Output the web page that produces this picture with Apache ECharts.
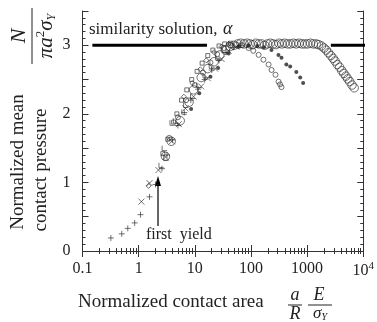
<!DOCTYPE html>
<html>
<head>
<meta charset="utf-8">
<script src="https://cdn.jsdelivr.net/npm/echarts@6/dist/echarts.min.js"></script>
<style>
  html, body { margin: 0; padding: 0; background: #fff; }
  #main { width: 377px; height: 322px; }
</style>
</head>
<body>
<div id="main"></div>
<script>
// tick labels
const xTickLabels = ['0.1', '1', '10', '100', '1000', '10^4']
const yTickLabels = ['0', '1', '2', '3']

// similarity solution line, alpha = 3
const similarityLeft = [[0.15, 3], [16.5, 3]]
const similarityRight = [[2650, 3], [20000, 3]]

// + markers
const plusPts = [[0.32, 0.19], [0.5, 0.25], [0.64, 0.33], [0.85, 0.41], [1.08, 0.53], [1.56, 0.79], [2.0, 0.97],
    [2.6, 1.2], [3.2, 1.4], [4.0, 1.62], [5.0, 1.83], [6.5, 2.02], [8.5, 2.2], [11.5, 2.36], [15, 2.5],
    [20, 2.64], [27, 2.78], [36, 2.9], [48, 2.97], [65, 3.0]]
// x markers
const crossPts = [[1.12, 0.72], [1.56, 0.99], [2.25, 1.18], [3.0, 1.37], [3.9, 1.6], [5.2, 1.85], [6.8, 2.08],
    [9.5, 2.25], [13, 2.4], [17, 2.52], [23, 2.66], [30, 2.8], [40, 2.92], [55, 2.98]]
// small open squares
const squarePts = [[2.7, 1.42], [3.3, 1.63], [4.2, 1.88], [4.8, 2.0], [5.8, 2.2], [7.2, 2.35], [8.8, 2.5],
    [11, 2.62], [13.5, 2.74], [17, 2.85], [21, 2.93], [27, 2.99], [34, 3.02], [43, 3.03]]
// small diamonds
const diamondPts = [[1.5, 0.95], [6.4, 2.25], [9, 2.45], [12.5, 2.65], [16, 2.78], [22, 2.9], [30, 2.98], [40, 3.02]]
// L shaped markers
const elbowPts = [[2.55, 1.25], [3.1, 1.36], [2.9, 1.5], [4.0, 1.87], [4.6, 1.9], [6.5, 2.03], [7.0, 2.13],
    [9.3, 2.26], [12, 2.42], [15.5, 2.56], [20, 2.7], [26, 2.82], [34, 2.93]]
// small open circles (drop at ~350)
const smallCirclePts = [[3.5, 1.65], [5, 1.95], [7, 2.2], [10, 2.42], [14, 2.6], [19, 2.75], [25, 2.87], [33, 2.96],
    [43, 3.0], [55, 3.01], [70, 3.0], [91, 2.96], [110, 2.92], [137, 2.86], [167, 2.79], [206, 2.72],
    [233, 2.64], [274, 2.57], [310, 2.47], [330, 2.43], [350, 2.39]]
// filled dots (drop at ~850)
const dotPts = [[8.6, 2.07], [12, 2.3], [19, 2.54], [26, 2.67], [40, 2.88], [60, 2.98], [90, 3.0], [130, 2.99],
    [170, 2.97], [232, 2.93], [309, 2.86], [350, 2.82], [427, 2.72], [500, 2.69], [643, 2.61], [754, 2.53], [850, 2.45]]
// large open circles (drop at ~7000)
const bigCirclePts = [[3.0, 1.38], [3.8, 1.6], [5.5, 1.9], [7.9, 2.17], [9.5, 2.35], [13, 2.53], [17, 2.66],
    [22, 2.76], [28, 2.86], [35, 2.93], [42, 2.98], [50, 3.0], [58, 3.02], [66, 3.03], [75, 3.02], [85, 3.03],
    [96, 3.02], [108, 3.01], [122, 3.03], [138, 3.02], [155, 3.02], [175, 3.0], [197, 3.02], [222, 3.03],
    [250, 3.02], [280, 3.01], [315, 3.03], [355, 3.02], [400, 3.03], [450, 3.02], [505, 3.02], [570, 3.03],
    [640, 3.02], [720, 3.03], [810, 3.02], [910, 3.02], [1020, 3.02], [1150, 3.03], [1290, 3.02], [1450, 3.02],
    [1600, 3.01], [1800, 2.99], [2000, 2.96], [2200, 2.93], [2400, 2.89], [2650, 2.85], [2900, 2.81],
    [3150, 2.77], [3450, 2.72], [3800, 2.68], [4150, 2.63], [4500, 2.59], [4900, 2.55], [5300, 2.51],
    [5750, 2.47], [6300, 2.42], [6900, 2.38]]

const serif = '"Liberation Serif", "DejaVu Serif", serif'
const ink = '#222'

function markerSeries(data, symbol, size, filled) {
    return {
        type: 'scatter',
        data: data,
        symbol: symbol,
        symbolSize: size,
        silent: true,
        itemStyle: {
            color: filled ? ink : 'transparent',
            borderColor: ink,
            borderWidth: filled ? 0 : 0.8
        }
    }
}

function lineSeries(data) {
    return {
        type: 'line',
        data: data,
        symbol: 'none',
        clip: false,
        silent: true,
        lineStyle: { color: '#000', width: 3 }
    }
}

const chart = echarts.init(document.querySelector('#main'))

const baseX = {
    type: 'log',
    logBase: 10,
    min: 0.1,
    max: 10000,
    axisLine: { lineStyle: { color: '#333', width: 1 } },
    axisTick: { inside: true, length: 6, lineStyle: { color: '#333' } },
    minorTick: { show: true, splitNumber: 9, length: 3, lineStyle: { color: '#333' } },
    splitLine: { show: false }
}
const baseY = {
    type: 'value',
    min: 0,
    max: 3.5,
    interval: 0.5,
    axisLine: { show: true, lineStyle: { color: '#333', width: 1 } },
    axisTick: { inside: true, length: 6, lineStyle: { color: '#333' } },
    minorTick: { show: true, splitNumber: 5, length: 3, lineStyle: { color: '#333' } },
    splitLine: { show: false }
}

const option = {
    backgroundColor: '#fff',
    animation: false,
    grid: { left: 82.5, right: 12, top: 11, bottom: 71 },
    xAxis: [
        Object.assign({}, baseX, {
            position: 'bottom',
            axisLabel: {
                margin: 10,
                fontFamily: serif,
                fontSize: 16,
                color: ink,
                formatter: v => {
                    const t = xTickLabels[Math.round(Math.log10(v)) + 1]
                    return t === '10^4' ? '{b|10}{s|4}' : '{b|' + t + '}'
                },
                rich: {
                    b: { fontFamily: serif, fontSize: 16, color: ink },
                    s: { fontFamily: serif, fontSize: 11, color: ink, verticalAlign: 'top', padding: [0, 0, 9, 0] }
                }
            }
        }),
        Object.assign({}, baseX, { position: 'top', axisLabel: { show: false } })
    ],
    yAxis: [
        Object.assign({}, baseY, {
            position: 'left',
            axisLabel: {
                margin: 12,
                fontFamily: serif,
                fontSize: 16,
                color: ink,
                formatter: v => (Math.abs(v - Math.round(v)) < 1e-6 ? yTickLabels[Math.round(v)] : '')
            }
        }),
        Object.assign({}, baseY, { position: 'right', axisLabel: { show: false } })
    ],
    series: [
        lineSeries(similarityLeft),
        lineSeries(similarityRight),
        markerSeries(plusPts, 'path://M5,0L5,10M0,5L10,5', 6, false),
        markerSeries(crossPts, 'path://M0,0L10,10M10,0L0,10', 6, false),
        markerSeries(squarePts, 'rect', 4, false),
        markerSeries(diamondPts, 'diamond', 5, false),
        markerSeries(elbowPts, 'path://M0,0L0,10L10,10', 5, false),
        markerSeries(smallCirclePts, 'circle', 5, false),
        markerSeries(dotPts, 'circle', 4, true),
        markerSeries(bigCirclePts, 'circle', 8.5, false)
    ],
    graphic: [
        // similarity solution label
        { type: 'text', left: 89, top: 21, style: { text: 'similarity solution,', font: '17px ' + serif, fill: ink } },
        { type: 'text', left: 223, top: 20, style: { text: 'α', font: 'italic 18px ' + serif, fill: ink } },
        // first yield arrow
        { type: 'line', shape: { x1: 158, y1: 226, x2: 158, y2: 184 }, style: { stroke: '#000', lineWidth: 1.2 } },
        { type: 'polygon', shape: { points: [[158, 176], [155, 186], [161, 186]] }, style: { fill: '#000' } },
        { type: 'text', left: 146, top: 227, style: { text: 'first  yield', font: '16px ' + serif, fill: ink } },
        // y axis title
        { type: 'text', x: 18, y: 162, rotation: Math.PI / 2,
          style: { text: 'Normalized mean', font: '19px ' + serif, fill: ink, align: 'center', verticalAlign: 'middle' } },
        { type: 'text', x: 41, y: 170, rotation: Math.PI / 2,
          style: { text: 'contact pressure', font: '19px ' + serif, fill: ink, align: 'center', verticalAlign: 'middle' } },
        // N / (pi a^2 sigma_Y)
        { type: 'group', x: 32, y: 36, rotation: Math.PI / 2, children: [
            { type: 'text', x: 0, y: -13, style: { text: 'N', font: 'italic 22px ' + serif, fill: ink, align: 'center', verticalAlign: 'middle' } },
            { type: 'line', shape: { x1: -28, y1: 0, x2: 28, y2: 0 }, style: { stroke: ink, lineWidth: 1 } },
            { type: 'text', x: 0, y: 14, style: {
                text: '{i|πa}{p|2}{i|σ}{q|Y}', align: 'center', verticalAlign: 'middle',
                rich: {
                    i: { font: 'italic 21px ' + serif, fill: ink },
                    p: { font: '13px ' + serif, fill: ink, verticalAlign: 'top', padding: [0, 0, 10, 0] },
                    q: { font: 'italic 12px ' + serif, fill: ink, verticalAlign: 'bottom', padding: [6, 0, 0, 0] }
                } } }
        ] },
        // x axis title
        { type: 'text', left: 78, top: 293, style: { text: 'Normalized contact area', font: '19px ' + serif, fill: ink } },
        { type: 'text', x: 295, y: 295, style: { text: 'a', font: 'italic 18px ' + serif, fill: ink, align: 'center', verticalAlign: 'middle' } },
        { type: 'line', shape: { x1: 288, y1: 305, x2: 302, y2: 305 }, style: { stroke: ink, lineWidth: 1 } },
        { type: 'text', x: 295, y: 314, style: { text: 'R', font: 'italic 18px ' + serif, fill: ink, align: 'center', verticalAlign: 'middle' } },
        { type: 'text', x: 319, y: 295, style: { text: 'E', font: 'italic 18px ' + serif, fill: ink, align: 'center', verticalAlign: 'middle' } },
        { type: 'line', shape: { x1: 308, y1: 305, x2: 332, y2: 305 }, style: { stroke: ink, lineWidth: 1 } },
        { type: 'text', x: 320, y: 314, style: {
            text: '{i|σ}{q|Y}', align: 'center', verticalAlign: 'middle',
            rich: {
                i: { font: 'italic 17px ' + serif, fill: ink },
                q: { font: 'italic 10px ' + serif, fill: ink, verticalAlign: 'bottom', padding: [5, 0, 0, 0] }
            } } }
    ]
}
chart.setOption(option)
</script>
</body>
</html>
